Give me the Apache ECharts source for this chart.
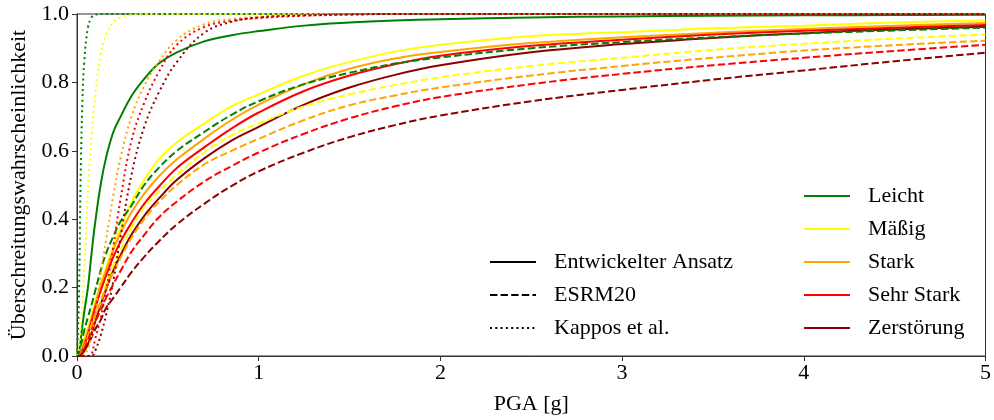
<!DOCTYPE html>
<html>
<head>
<meta charset="utf-8">
<script src="https://cdn.jsdelivr.net/npm/echarts@6/dist/echarts.min.js"></script>
<style>html,body{margin:0;padding:0;background:#fff}#c{width:994px;height:420px}</style>
</head>
<body>
<div id="c"></div>
<script>
// PGA grid [g]
const pga = [0, 0.01, 0.02, 0.03, 0.04, 0.06, 0.08, 0.1, 0.13, 0.16, 0.2, 0.24, 0.3, 0.37, 0.45, 0.55, 0.7, 0.85, 1, 1.25, 1.5, 1.75, 2, 2.5, 3, 3.5, 4, 4.5, 5];

const damageStates = ["Leicht", "Mäßig", "Stark", "Sehr Stark", "Zerstörung"];
const methods = ["Entwickelter Ansatz", "ESRM20", "Kappos et al."];
const xTicks = [0, 1, 2, 3, 4, 5];
const yTicks = [0, 0.2, 0.4, 0.6, 0.8, 1.0];

// Entwickelter Ansatz (solid)
const ansatzLeicht     = [0, 0.01, 0.046, 0.09, 0.13, 0.2, 0.3, 0.39, 0.5, 0.58, 0.655, 0.7, 0.76, 0.81, 0.855, 0.888, 0.92, 0.938, 0.95, 0.966, 0.975, 0.981, 0.985, 0.99, 0.993, 0.995, 0.996, 0.997, 0.998];
const ansatzMaessig    = [0, 0.002, 0.01, 0.03, 0.05, 0.08, 0.12, 0.16, 0.21, 0.26, 0.32, 0.375, 0.45, 0.515, 0.575, 0.625, 0.68, 0.73, 0.765, 0.82, 0.86, 0.89, 0.91, 0.935, 0.947, 0.958, 0.966, 0.975, 0.981];
const ansatzStark      = [0, 0.002, 0.01, 0.025, 0.04, 0.075, 0.11, 0.15, 0.205, 0.25, 0.31, 0.36, 0.42, 0.475, 0.525, 0.575, 0.635, 0.69, 0.735, 0.795, 0.84, 0.87, 0.889, 0.915, 0.932, 0.945, 0.956, 0.966, 0.974];
const ansatzSehrStark  = [0, 0.001, 0.006, 0.016, 0.03, 0.062, 0.1, 0.14, 0.19, 0.235, 0.29, 0.335, 0.39, 0.445, 0.495, 0.55, 0.61, 0.665, 0.712, 0.775, 0.82, 0.853, 0.878, 0.907, 0.925, 0.94, 0.951, 0.96, 0.968];
const ansatzZerstoerung= [0, 0, 0.002, 0.008, 0.015, 0.035, 0.065, 0.1, 0.15, 0.195, 0.25, 0.295, 0.355, 0.41, 0.46, 0.515, 0.578, 0.63, 0.67, 0.735, 0.785, 0.822, 0.85, 0.888, 0.912, 0.93, 0.944, 0.955, 0.963];

// ESRM20 (dashed)
const esrmLeicht       = [0, 0.01, 0.03, 0.05, 0.075, 0.113, 0.15, 0.19, 0.25, 0.3, 0.35, 0.394, 0.44, 0.5, 0.55, 0.6, 0.655, 0.705, 0.745, 0.795, 0.828, 0.855, 0.873, 0.9, 0.918, 0.932, 0.943, 0.952, 0.96];
const esrmMaessig      = [0, 0, 0.004, 0.012, 0.025, 0.055, 0.09, 0.12, 0.155, 0.21, 0.265, 0.31, 0.375, 0.435, 0.48, 0.53, 0.595, 0.645, 0.68, 0.73, 0.765, 0.792, 0.815, 0.848, 0.872, 0.895, 0.913, 0.928, 0.94];
const esrmStark        = [0, 0, 0.004, 0.012, 0.025, 0.055, 0.085, 0.12, 0.16, 0.2, 0.245, 0.287, 0.345, 0.4, 0.45, 0.5, 0.56, 0.6, 0.635, 0.69, 0.733, 0.762, 0.785, 0.82, 0.848, 0.872, 0.893, 0.909, 0.922];
const esrmSehrStark    = [0, 0, 0.003, 0.01, 0.02, 0.046, 0.075, 0.1, 0.133, 0.17, 0.21, 0.249, 0.305, 0.354, 0.405, 0.452, 0.51, 0.555, 0.595, 0.65, 0.695, 0.73, 0.757, 0.795, 0.825, 0.85, 0.872, 0.892, 0.91];
const esrmZerstoerung  = [0, 0, 0.002, 0.007, 0.015, 0.035, 0.055, 0.078, 0.105, 0.14, 0.17, 0.2, 0.245, 0.29, 0.335, 0.385, 0.445, 0.497, 0.54, 0.595, 0.64, 0.675, 0.703, 0.745, 0.778, 0.808, 0.835, 0.862, 0.887];

// Kappos et al. (dotted)
const kapposLeicht     = [0, 0.15, 0.52, 0.75, 0.86, 0.96, 0.99, 0.998, 1, 1, 1, 1, 1, 1, 1, 1, 1, 1, 1, 1, 1, 1, 1, 1, 1, 1, 1, 1, 1];
const kapposMaessig    = [0, 0.02, 0.08, 0.16, 0.25, 0.48, 0.64, 0.76, 0.88, 0.94, 0.975, 0.99, 0.997, 1, 1, 1, 1, 1, 1, 1, 1, 1, 1, 1, 1, 1, 1, 1, 1];
const kapposStark      = [0, 0, 0, 0.002, 0.005, 0.02, 0.06, 0.12, 0.24, 0.34, 0.47, 0.58, 0.7, 0.79, 0.86, 0.925, 0.97, 0.985, 0.992, 0.997, 0.999, 1, 1, 1, 1, 1, 1, 1, 1];
const kapposSehrStark  = [0, 0, 0, 0, 0, 0, 0.005, 0.05, 0.11, 0.19, 0.32, 0.46, 0.63, 0.74, 0.83, 0.91, 0.962, 0.98, 0.988, 0.995, 0.998, 1, 1, 1, 1, 1, 1, 1, 1];
const kapposZerstoerung= [0, 0, 0, 0, 0, 0, 0, 0.015, 0.06, 0.12, 0.22, 0.35, 0.53, 0.67, 0.77, 0.86, 0.945, 0.977, 0.99, 0.996, 0.999, 1, 1, 1, 1, 1, 1, 1, 1];

const colors = ["#008000", "#ffff00", "#ffa500", "#ff0000", "#8b0000"];
const lineTypes = ["solid", [7.4, 3.2], [2, 3.3]];

const curves = [
  [ansatzLeicht, ansatzMaessig, ansatzStark, ansatzSehrStark, ansatzZerstoerung],
  [esrmLeicht, esrmMaessig, esrmStark, esrmSehrStark, esrmZerstoerung],
  [kapposLeicht, kapposMaessig, kapposStark, kapposSehrStark, kapposZerstoerung]
];

const FONT = "Liberation Serif";
const FS = 22;
const series = [];
curves.forEach((group, m) => {
  group.forEach((ys, d) => {
    series.push({
      name: methods[m] + " – " + damageStates[d],
      type: "line",
      data: pga.map((x, i) => [x, ys[i]]),
      showSymbol: false, symbol: "none",
      smooth: 0.4,
      lineStyle: { color: colors[d], width: 2, type: lineTypes[m] },
      itemStyle: { color: colors[d] },
      silent: true, z: 2
    });
  });
});
// legend proxies (line only, invisible symbol)
const noMark = { color: "rgba(0,0,0,0)", borderColor: "rgba(0,0,0,0)", borderWidth: 0 };
methods.forEach((name, m) => {
  series.push({ name, type: "line", data: [], symbol: "none",
    lineStyle: { color: "#000", width: 2.4, type: lineTypes[m] }, itemStyle: noMark });
});
damageStates.forEach((name, d) => {
  series.push({ name, type: "line", data: [], symbol: "none",
    lineStyle: { color: colors[d], width: 2, type: "solid" }, itemStyle: noMark });
});

const legendText = { fontFamily: FONT, fontSize: FS, lineHeight: 22, color: "#000", padding: [0, 0, 0, 13] };
const chart = echarts.init(document.getElementById("c"), null, { renderer: "canvas" });
chart.setOption({
  animation: false,
  backgroundColor: "#fff",
  grid: { left: 75, right: 6, top: 14, bottom: 61, show: true, borderColor: "#333", borderWidth: 1, backgroundColor: "transparent" },
  legend: [
    { data: methods, orient: "vertical", left: 484, top: 246, itemWidth: 46, itemHeight: 14, itemGap: 11,
      itemStyle: noMark, textStyle: legendText },
    { data: damageStates, orient: "vertical", left: 798, top: 180, itemWidth: 46, itemHeight: 14, itemGap: 11,
      itemStyle: noMark, textStyle: legendText }
  ],
  xAxis: {
    type: "value", min: 0, max: 5, interval: 1,
    name: "PGA [g]", nameLocation: "middle", nameGap: 37,
    nameTextStyle: { fontFamily: FONT, fontSize: FS, color: "#000" },
    axisLine: { show: true, lineStyle: { color: "#333", width: 1 } },
    axisTick: { show: true, length: 5, lineStyle: { color: "#333" } },
    axisLabel: { fontFamily: FONT, fontSize: FS, color: "#000", margin: 6,
      formatter: v => xTicks.includes(v) ? String(v) : "" },
    splitLine: { show: false }
  },
  yAxis: {
    type: "value", min: 0, max: 1, interval: 0.2,
    name: "Überschreitungswahrscheinlichkeit", nameLocation: "middle", nameGap: 47,
    nameTextStyle: { fontFamily: FONT, fontSize: FS, color: "#000" },
    axisLine: { show: true, lineStyle: { color: "#333", width: 1 } },
    axisTick: { show: true, length: 5, lineStyle: { color: "#333" } },
    axisLabel: { fontFamily: FONT, fontSize: FS, color: "#000", margin: 8,
      formatter: v => yTicks.some(t => Math.abs(t - v) < 1e-9) ? v.toFixed(1) : "" },
    splitLine: { show: false }
  },
  series
});
</script>
</body>
</html>
